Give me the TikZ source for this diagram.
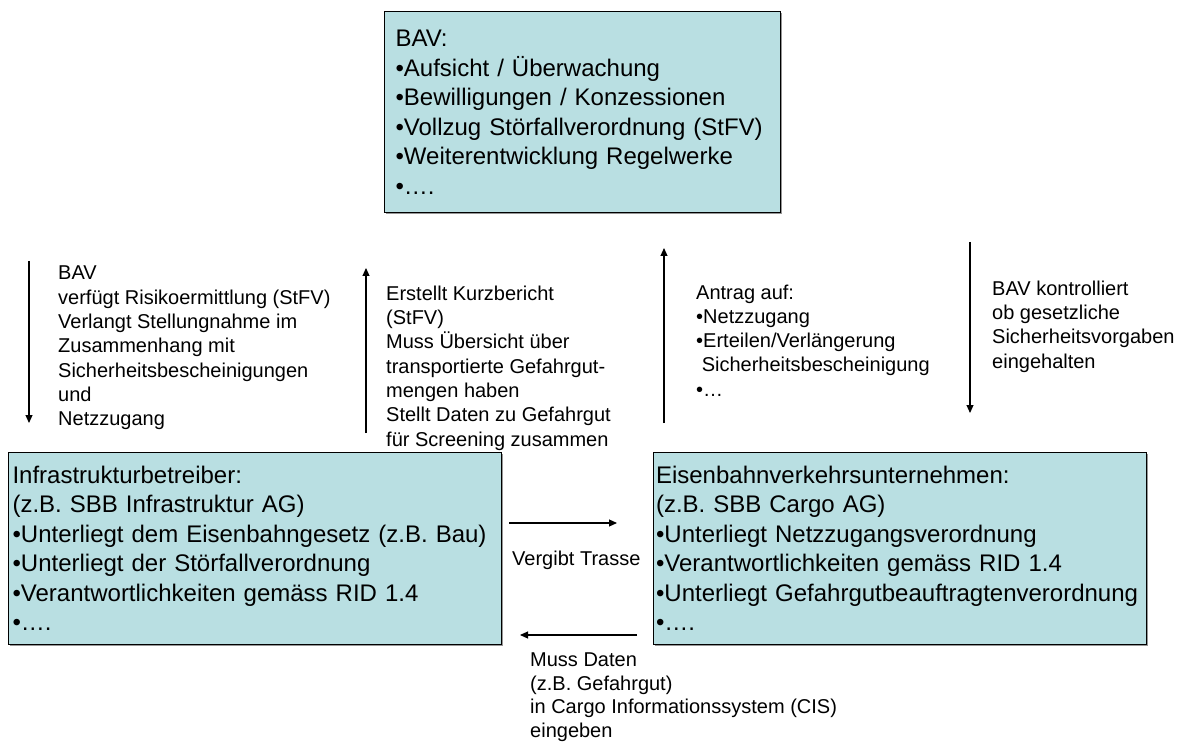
\documentclass[tikz,border=0pt]{standalone}
\usepackage{fontspec}
\setmainfont{Liberation Sans}
\usetikzlibrary{arrows.meta}
\definecolor{boxfill}{RGB}{185,223,226}
\definecolor{shadowgray}{RGB}{150,150,150}
\begin{document}
\begin{tikzpicture}[x=1pt,y=-1pt,
  box/.style={draw=black, line width=1.1pt, fill=boxfill, anchor=north west, align=left,
    inner ysep=0pt, font=\fontsize{24}{29.5}\selectfont, text=black},
  note/.style={anchor=north west, align=left, inner sep=0pt, font=\fontsize{20}{24.3}\selectfont},
  arr/.style={line width=1.1pt, -{Triangle[length=8pt,width=7pt]}}]
\useasboundingbox (0,0) rectangle (1188,743);
\fill[white] (0,0) rectangle (1188,743);
% shadows
\fill[shadowgray] (386,13) rectangle (782,214);
\fill[shadowgray] (10,454) rectangle (503,646);
\fill[shadowgray] (655,454) rectangle (1148,646);
% boxes
\node[box, minimum width=396pt, minimum height=201pt, text width=374pt, inner xsep=11pt] (bav) at (384,11)
  {BAV:\\•Aufsicht / Überwachung\\•Bewilligungen / Konzessionen\\•Vollzug Störfallverordnung (StFV)\\•Weiterentwicklung Regelwerke\\•….};
\node[box, minimum width=493pt, minimum height=192pt, text width=485pt, inner xsep=4pt] (ib) at (8,452)
  {Infrastrukturbetreiber:\\(z.B. SBB Infrastruktur AG)\\•Unterliegt dem Eisenbahngesetz (z.B. Bau)\\•Unterliegt der Störfallverordnung\\•Verantwortlichkeiten gemäss RID 1.4\\•….};
\node[box, minimum width=493pt, minimum height=192pt, text width=488pt, inner xsep=2.5pt] (evu) at (653,452)
  {Eisenbahnverkehrsunternehmen:\\(z.B. SBB Cargo AG)\\•Unterliegt Netzzugangsverordnung\\•Verantwortlichkeiten gemäss RID 1.4\\•Unterliegt Gefahrgutbeauftragtenverordnung\\•….};
% notes
\node[note] (n1) at (58,266)
  {BAV\\verfügt Risikoermittlung (StFV)\\Verlangt Stellungnahme im\\Zusammenhang mit\\Sicherheitsbescheinigungen\\und\\Netzzugang};
\node[note] (n2) at (386,285.6)
  {Erstellt Kurzbericht\\(StFV)\\Muss Übersicht über\\transportierte Gefahrgut-\\mengen haben\\Stellt Daten zu Gefahrgut\\für Screening zusammen};
\node[note] (n3) at (696,284.4)
  {Antrag auf:\\•Netzzugang\\•Erteilen/Verlängerung\\\hspace*{5.6pt}Sicherheitsbescheinigung\\•…};
\node[note] (n4) at (992,280.6)
  {BAV kontrolliert\\ob gesetzliche\\Sicherheitsvorgaben\\eingehalten};
\node[note, anchor=base west] (n5) at (512,565) {Vergibt Trasse};
\node[note, font=\fontsize{20}{23.5}\selectfont] (n6) at (530,653)
  {Muss Daten\\(z.B. Gefahrgut)\\in Cargo Informationssystem (CIS)\\eingeben};
% arrows
\coordinate (a1s) at (29,261);  \coordinate (a1e) at (29,423);
\coordinate (a2s) at (366,433); \coordinate (a2e) at (366,268);
\coordinate (a3s) at (664,423); \coordinate (a3e) at (664,248);
\coordinate (a4s) at (970,242); \coordinate (a4e) at (970,413);
\coordinate (a5s) at (509,523); \coordinate (a5e) at (617,523);
\coordinate (a6s) at (637,635); \coordinate (a6e) at (520,635);
\draw[arr] (a1s) -- (a1e);
\draw[arr] (a2s) -- (a2e);
\draw[arr] (a3s) -- (a3e);
\draw[arr] (a4s) -- (a4e);
\draw[arr] (a5s) -- (a5e);
\draw[arr] (a6s) -- (a6e);
\end{tikzpicture}
\end{document}
